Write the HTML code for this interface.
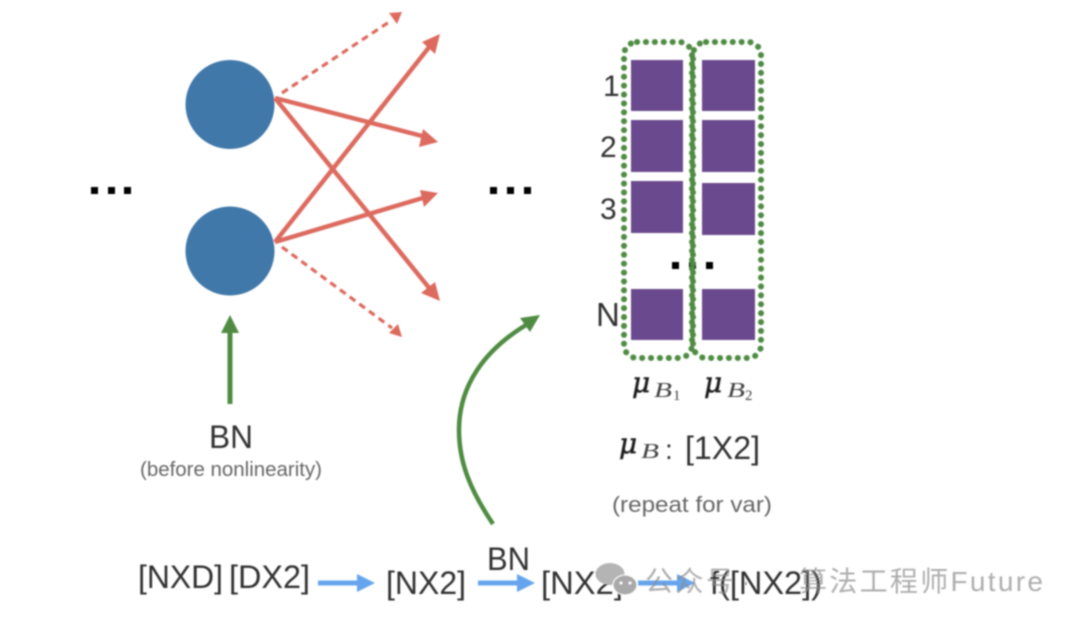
<!DOCTYPE html>
<html><head><meta charset="utf-8">
<style>
html,body{margin:0;padding:0;background:#fff}
body{width:1080px;height:624px;overflow:hidden;position:relative}
svg{position:absolute;left:0;top:0}
text{font-family:"Liberation Sans","Noto Sans CJK SC",sans-serif}
.m{font-family:"DejaVu Serif",serif;font-style:italic;font-size:28px;fill:#1e1e1e;stroke:#1e1e1e;stroke-width:.5px}
.b{font-family:"Liberation Serif",serif;font-style:italic;font-size:21px;fill:#444}
.s{font-family:"Liberation Serif",serif;font-size:15px;fill:#444}
</style></head>
<body>
<svg width="1080" height="624" viewBox="0 0 1080 624" xmlns="http://www.w3.org/2000/svg">
<defs><filter id="b" x="-5%" y="-5%" width="110%" height="110%"><feGaussianBlur stdDeviation="0.75"/></filter></defs>
<g filter="url(#b)">
<circle cx="230" cy="104.500" r="44.500" fill="#3f78a9"/>
<circle cx="230" cy="251" r="44.500" fill="#3f78a9"/>
<g fill="#000">
<rect x="91" y="187" width="7" height="7"/><rect x="108" y="187" width="7" height="7"/><rect x="124" y="187" width="7" height="7"/>
<rect x="490" y="187" width="7" height="7"/><rect x="507" y="187" width="7" height="7"/><rect x="524" y="187" width="7" height="7"/>
<rect x="672" y="262" width="7" height="7"/><rect x="689" y="262" width="7" height="7"/><rect x="706" y="262" width="7" height="7"/>
</g>
<g stroke="#dd6a5e" stroke-width="4.500" fill="none">
<line x1="275" y1="98" x2="426" y2="137"/>
<line x1="275" y1="98" x2="430" y2="289"/>
<line x1="275" y1="242" x2="430" y2="46"/>
<line x1="275" y1="242" x2="426" y2="197"/>
<line x1="282" y1="93" x2="392" y2="20" stroke-width="3.200" stroke-dasharray="7 5"/>
<line x1="282" y1="247" x2="392" y2="328" stroke-width="3.200" stroke-dasharray="7 5"/>
</g>
<g fill="#dd6a5e">
<polygon points="440,34 435,54 422,42"/>
<polygon points="438,142 419,147 423,129"/>
<polygon points="438,193 424,207 420,190"/>
<polygon points="440,301 421,293 435,282"/>
<polygon points="402,12 397,24 389,13"/>
<polygon points="402,337 389,333 398,324"/>
</g>
<g fill="#6a4a8e">
<rect x="631" y="60" width="52" height="51"/><rect x="702" y="60" width="53" height="51"/>
<rect x="631" y="120" width="52" height="52"/><rect x="702" y="120" width="53" height="52"/>
<rect x="631" y="181" width="52" height="52"/><rect x="702" y="183" width="53" height="52"/>
<rect x="631" y="289" width="52" height="51"/><rect x="702" y="289" width="53" height="51"/>
</g>
<g fill="none" stroke="#4f8c43" stroke-width="6" stroke-linecap="round" stroke-dasharray="0.1 8.800">
<rect x="624" y="42" width="68" height="316" rx="13"/>
<rect x="693" y="42" width="68" height="316" rx="13"/>
</g>
<line x1="230" y1="404" x2="230" y2="332" stroke="#4f8c43" stroke-width="5"/>
<polygon points="230,315 239,333 221,333" fill="#4f8c43"/>
<path d="M493 524C470 490 459 462 459 430C459 385 485 350 526 325" fill="none" stroke="#4f8c43" stroke-width="4.500"/>
<polygon points="540,315 530,332 520,318" fill="#4f8c43"/>
<g stroke="#66a5ee" stroke-width="5" fill="none">
<line x1="318" y1="583" x2="362" y2="583"/>
<line x1="478" y1="583" x2="522" y2="583"/>
<line x1="638" y1="583" x2="682" y2="583"/>
</g>
<g fill="#66a5ee">
<polygon points="375,583 357,574 357,592"/>
<polygon points="535,583 517,574 517,592"/>
<polygon points="695,583 677,574 677,592"/>
</g>
<g fill="#333" font-size="32">
<text x="603" y="96" font-size="30">1</text>
<text x="600" y="157" font-size="30">2</text>
<text x="600" y="219" font-size="30">3</text>
<text x="596" y="326" font-size="33">N</text>
<text x="209" y="448" textLength="44" lengthAdjust="spacingAndGlyphs">BN</text>
<text x="138" y="588" textLength="85" lengthAdjust="spacingAndGlyphs">[NXD]</text>
<text x="229" y="588" textLength="81" lengthAdjust="spacingAndGlyphs">[DX2]</text>
<text x="386" y="594" textLength="80" lengthAdjust="spacingAndGlyphs">[NX2]</text>
<text x="487" y="570" textLength="43" lengthAdjust="spacingAndGlyphs">BN</text>
<text x="541" y="594" textLength="82" lengthAdjust="spacingAndGlyphs">[NX2]</text>
<text x="710" y="594" textLength="112" lengthAdjust="spacingAndGlyphs">f([NX2])</text>
<text x="685" y="459" textLength="75" lengthAdjust="spacingAndGlyphs">[1X2]</text>
<text x="665" y="459" font-size="28">:</text>
</g>
<g fill="#666" font-size="20">
<text x="140" y="476" textLength="182" lengthAdjust="spacingAndGlyphs">(before nonlinearity)</text>
<text x="612" y="512" font-size="22" textLength="160" lengthAdjust="spacingAndGlyphs">(repeat for var)</text>
</g>
<text class="m" x="632" y="392">μ</text>
<text class="b" x="654" y="397" textLength="18" lengthAdjust="spacingAndGlyphs">B</text>
<text class="s" x="673" y="400">1</text>
<text class="m" x="704" y="392">μ</text>
<text class="b" x="727" y="397" textLength="18" lengthAdjust="spacingAndGlyphs">B</text>
<text class="s" x="745" y="400">2</text>
<text class="m" x="619" y="453">μ</text>
<text class="b" x="641" y="458" textLength="18" lengthAdjust="spacingAndGlyphs">B</text>
</g>
<g filter="url(#b)">
<ellipse cx="610" cy="574" rx="14.500" ry="11" fill="#b4b4b4"/>
<ellipse cx="625" cy="585" rx="12" ry="10" fill="#a9a9a9" stroke="#fff" stroke-width="1"/>
<circle cx="621" cy="583" r="1.500" fill="#fff"/><circle cx="630" cy="583" r="1.500" fill="#fff"/>
<text x="645" y="591" font-size="28" fill="#8c8c8c" fill-opacity="0.7" letter-spacing="2.500">公众号</text>
<text x="741" y="591" font-size="28" fill="#8c8c8c" fill-opacity="0.7">·</text>
<text x="799" y="591" font-size="28" fill="#8c8c8c" fill-opacity="0.7" letter-spacing="2.300">算法工程师Future</text>
</g>
</svg>
</body></html>
